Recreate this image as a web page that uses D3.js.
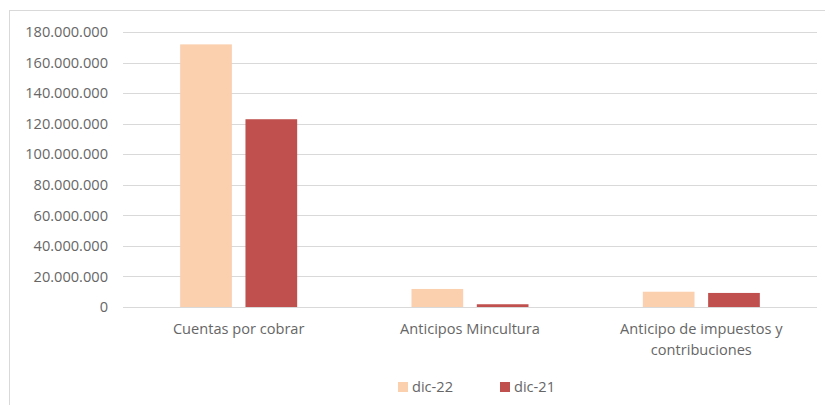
<!DOCTYPE html>
<html>
<head>
<meta charset="utf-8">
<script src="https://cdn.jsdelivr.net/npm/d3@7"></script>
<style>
  body { margin: 0; background: #fff; }
  svg text { font-family: "Open Sans", sans-serif; fill: #666; }
</style>
</head>
<body>
<div id="chart"></div>
<script>
// data
var categories = ["Cuentas por cobrar", "Anticipos Mincultura", "Anticipo de impuestos y contribuciones"];
var seriesNames = ["dic-22", "dic-21"];
var dic22 = [171900000, 11800000, 10000000];
var dic21 = [122900000, 1800000, 9200000];
var yTicks = [0, 20000000, 40000000, 60000000, 80000000, 100000000, 120000000, 140000000, 160000000, 180000000];
var colors = ["#FAD0AF", "#C0504D"];

//=========================== drawing =========================================

var W = 825, H = 405;
var svg = d3.select("#chart").append("svg")
    .attr("width", W).attr("height", H);

// chart frame (left and top borders visible)
svg.append("rect")
    .attr("x", 9.5).attr("y", 10.5)
    .attr("width", 830).attr("height", 420)
    .attr("fill", "none")
    .attr("stroke", "#d9d9d9")
    .attr("stroke-width", 1);

var x0 = d3.scaleBand().domain(categories).range([123, 817]);
var y = d3.scaleLinear().domain([0, 180000000]).range([307, 32]);

var fmt = function(v) {
    return d3.format(",")(v).replace(/,/g, ".");
};

// gridlines
svg.append("g").selectAll("line")
    .data(yTicks)
    .join("line")
    .attr("x1", 123).attr("x2", 817)
    .attr("y1", d => Math.round(y(d)) + 0.5)
    .attr("y2", d => Math.round(y(d)) + 0.5)
    .attr("stroke", "#d9d9d9")
    .attr("stroke-width", 1);

// y labels
svg.append("g").selectAll("text")
    .data(yTicks)
    .join("text")
    .attr("x", 108)
    .attr("y", d => y(d))
    .attr("dy", "0.36em")
    .attr("text-anchor", "end")
    .style("font-size", "14.6px")
    .text(fmt);

// bars
var barW = 51.7, gap = 13.6;
var series = [dic22, dic21];
series.forEach(function(vals, s) {
    svg.append("g").selectAll("rect")
        .data(vals)
        .join("rect")
        .attr("x", (d, i) => x0(categories[i]) + x0.bandwidth() / 2 - barW - gap / 2 + s * (barW + gap))
        .attr("y", d => y(d))
        .attr("width", barW)
        .attr("height", d => y(0) - y(d))
        .attr("fill", colors[s]);
});

// category labels
var catLines = [["Cuentas por cobrar"], ["Anticipos Mincultura"], ["Anticipo de impuestos y", "contribuciones"]];
categories.forEach(function(c, i) {
    var t = svg.append("text")
        .attr("x", x0(c) + x0.bandwidth() / 2)
        .attr("y", 329)
        .attr("dy", "0.36em")
        .attr("text-anchor", "middle")
        .style("font-size", "14.6px");
    catLines[i].forEach(function(line, j) {
        t.append("tspan")
            .attr("x", x0(c) + x0.bandwidth() / 2)
            .attr("dy", j == 0 ? "0.36em" : 21)
            .text(line);
    });
});

// legend
var legendX = [398, 500];
seriesNames.forEach(function(n, s) {
    svg.append("rect")
        .attr("x", legendX[s]).attr("y", 382)
        .attr("width", 10).attr("height", 10)
        .attr("fill", colors[s]);
    svg.append("text")
        .attr("x", legendX[s] + 14).attr("y", 387)
        .attr("dy", "0.36em")
        .style("font-size", "14.6px")
        .text(n);
});
</script>
</body>
</html>
